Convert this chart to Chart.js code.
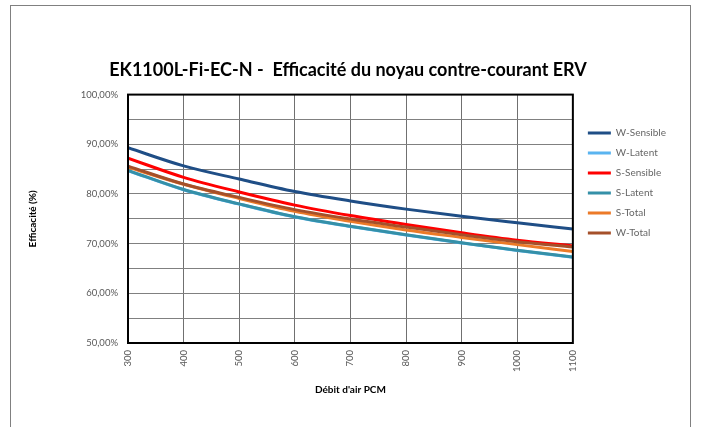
<!DOCTYPE html>
<html><head><meta charset="utf-8">
<script src="https://cdn.jsdelivr.net/npm/chart.js@4"></script>
<style>html,body{margin:0;padding:0;background:#fff}#wrap{width:701px;height:427px;position:relative}</style>
</head><body><div id="wrap"><canvas id="c" width="701" height="427"></canvas></div>
<script>
// ---- data ----
const flows = [300, 400, 500, 600, 700, 800, 900, 1000, 1100];
const wSensible = [89.3, 85.65, 83.0, 80.5, 78.6, 76.95, 75.5, 74.2, 72.95];
const wLatent   = [84.7, 80.85, 77.95, 75.35, 73.45, 71.75, 70.15, 68.6, 67.25];
const sSensible = [87.2, 83.35, 80.4, 77.75, 75.65, 73.85, 72.2, 70.7, 69.55];
const sLatent   = [84.75, 80.9, 78.0, 75.4, 73.5, 71.8, 70.2, 68.65, 67.3];
const sTotal    = [85.4, 81.95, 79.1, 76.5, 74.5, 72.75, 71.25, 69.8, 68.4];
const wTotal    = [85.6, 82.0, 79.3, 76.85, 74.95, 73.35, 71.8, 70.4, 69.3];
const seriesNames = ['W-Sensible', 'W-Latent', 'S-Sensible', 'S-Latent', 'S-Total', 'W-Total'];
const seriesValues = [wSensible, wLatent, sSensible, sLatent, sTotal, wTotal];
const yTickValues = [50, 60, 70, 80, 90, 100];

// ---- styles ----
const seriesColors = ['#1F4E86', '#5AB4F0', '#FF0000', '#3590A8', '#EC7A28', '#A5502A'];
const FONT = 'Lato, "Open Sans", sans-serif';

const datasets = seriesNames.map((name, i) => ({
  label: name,
  data: flows.map((x, j) => ({x: x, y: seriesValues[i][j]})),
  borderColor: seriesColors[i],
  backgroundColor: seriesColors[i],
  borderWidth: 3,
  pointRadius: 0,
  cubicInterpolationMode: 'monotone',
  fill: false,
  order: seriesNames.length - i
}));

const framePlugin = {
  id: 'frame',
  beforeDraw(chart) {
    const ctx = chart.ctx;
    ctx.save();
    ctx.fillStyle = '#fff';
    ctx.fillRect(0, 0, chart.width, chart.height);
    ctx.strokeStyle = '#808080';
    ctx.lineWidth = 1;
    ctx.strokeRect(10.5, 5.5, 680, 500);
    ctx.restore();
  },
  afterLayout(chart) {
    const lg = chart.legend;
    if (lg) { lg.left += 5; lg.right += 5; }
    const tb = chart.titleBlock;
    if (tb) { tb.left = 0; tb.right = 696; tb.width = 696; }
  },
  afterDraw(chart) {
    const a = chart.chartArea, ctx = chart.ctx;
    ctx.save();
    ctx.strokeStyle = '#000';
    ctx.lineWidth = 2;
    ctx.strokeRect(a.left, a.top, a.right - a.left, a.bottom - a.top);
    ctx.restore();
  }
};

new Chart(document.getElementById('c'), {
  type: 'line',
  data: { datasets: datasets },
  options: {
    responsive: false,
    devicePixelRatio: 1,
    animation: false,
    layout: { padding: { left: 0, right: 30, top: 0, bottom: 0 } },
    plugins: {
      title: {
        display: true,
        text: 'EK1100L-Fi-EC-N -  Efficacité du noyau contre-courant ERV',
        color: '#000',
        font: { family: FONT, size: 18, weight: 'bold' },
        padding: { top: 59, bottom: 14 }
      },
      legend: {
        position: 'right',
        align: 'start',
        title: { display: true, text: ' ', font: { family: FONT, size: 10 }, padding: { top: 96, bottom: 10 } },
        labels: {
          boxWidth: 23,
          boxHeight: 3,
          padding: 10,
          color: '#000',
          font: { family: FONT, size: 10 },
          sort: (a, b) => a.datasetIndex - b.datasetIndex,
          generateLabels(chart) {
            return chart.data.datasets.map((d, i) => ({
              text: d.label, fillStyle: d.borderColor, strokeStyle: d.borderColor,
              lineWidth: 0, hidden: false, datasetIndex: i
            }));
          }
        }
      },
      tooltip: { enabled: false }
    },
    scales: {
      x: {
        type: 'linear',
        min: 300, max: 1100,
        afterFit(s) { s.height = 84; },
        ticks: {
          stepSize: 100, minRotation: 90, maxRotation: 90, padding: 7,
          color: '#595959', font: { family: FONT, size: 9.5 },
          callback: v => String(v)
        },
        grid: { color: '#707070', lineWidth: 1, drawTicks: false },
        border: { display: false },
        title: {
          display: true, text: "Débit d'air PCM", color: '#000',
          font: { family: FONT, size: 10, weight: 'bold' },
          padding: { top: 0, bottom: 31 }
        }
      },
      y: {
        min: 50, max: 100,
        afterFit(s) { s.width = 128; },
        ticks: {
          stepSize: 5, padding: 10, autoSkip: false,
          color: '#595959', font: { family: FONT, size: 9.5 },
          callback: v => yTickValues.includes(v) ? v.toFixed(2).replace('.', ',') + '%' : ''
        },
        grid: { color: '#808080', lineWidth: 1, drawTicks: false },
        border: { display: false },
        title: {
          display: true, text: 'Efficacité (%)', color: '#000',
          font: { family: FONT, size: 10, weight: 'bold' },
          padding: { top: 27, bottom: 0 }
        }
      }
    }
  },
  plugins: [framePlugin]
});
</script>
</body></html>
